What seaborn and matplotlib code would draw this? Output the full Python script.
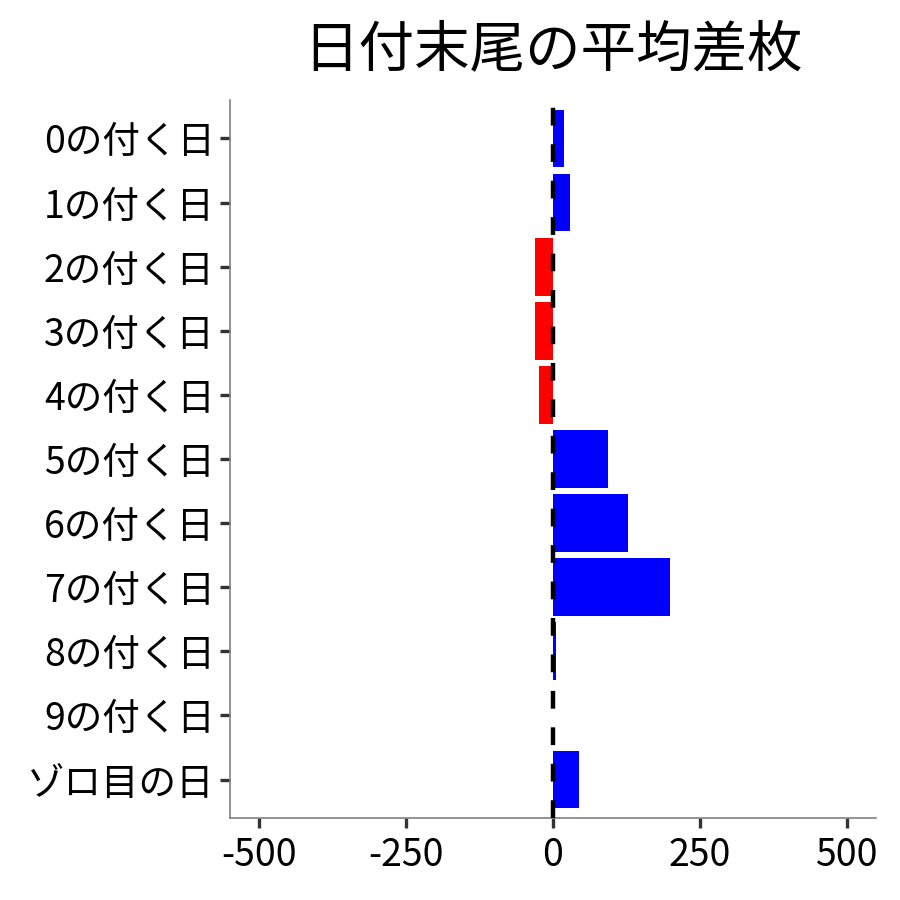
import matplotlib
matplotlib.use("Agg")
import matplotlib.pyplot as plt
import seaborn as sns
import pandas as pd

# Data
days = ["0の付く日", "1の付く日", "2の付く日", "3の付く日", "4の付く日",
        "5の付く日", "6の付く日", "7の付く日", "8の付く日", "9の付く日", "ゾロ目の日"]
diff = [18, 29, -31, -31, -24, 93, 127, 199, 5, 0, 44]
x_ticks = [-500, -250, 0, 250, 500]

sns.set_theme(style="white")
plt.rcParams["font.family"] = ["Noto Sans CJK JP", "DejaVu Sans"]

df = pd.DataFrame({"day": days, "diff": diff})
df["sign"] = ["plus" if v >= 0 else "minus" for v in diff]

fig = plt.figure(figsize=(9, 9), dpi=100)
ax = fig.add_axes([0.2556, 0.0911, 0.7178, 0.7978])

sns.barplot(
    data=df, x="diff", y="day", hue="sign", order=days,
    palette={"plus": "#0000FF", "minus": "#FF0000"},
    dodge=False, width=0.9, orient="h", ax=ax, legend=False,
    saturation=1, linewidth=0,
)
ax.axvline(0, color="black", linestyle=(0, (4.0, 4.2)), linewidth=3.2, zorder=5)

ax.set_xlim(-550, 550)
ax.set_ylim(len(days) - 0.4, -0.6)
ax.set_xticks(x_ticks)
ax.set_xticklabels([str(t) for t in x_ticks])
ax.set_xlabel("")
ax.set_ylabel("")
ax.set_title("日付末尾の平均差枚", fontsize=40, pad=24, color="black")

for side in ["top", "right"]:
    ax.spines[side].set_visible(False)
for side in ["left", "bottom"]:
    ax.spines[side].set_color("#808080")
    ax.spines[side].set_linewidth(1.2)
ax.tick_params(axis="both", which="major", length=7, width=2.4, color="#333333",
               labelsize=27, labelcolor="black", pad=4)
ax.tick_params(axis="x", pad=6)
ax.tick_params(axis="both", bottom=True, left=True)

fig.savefig("out.png", dpi=100)
plt.close(fig)
